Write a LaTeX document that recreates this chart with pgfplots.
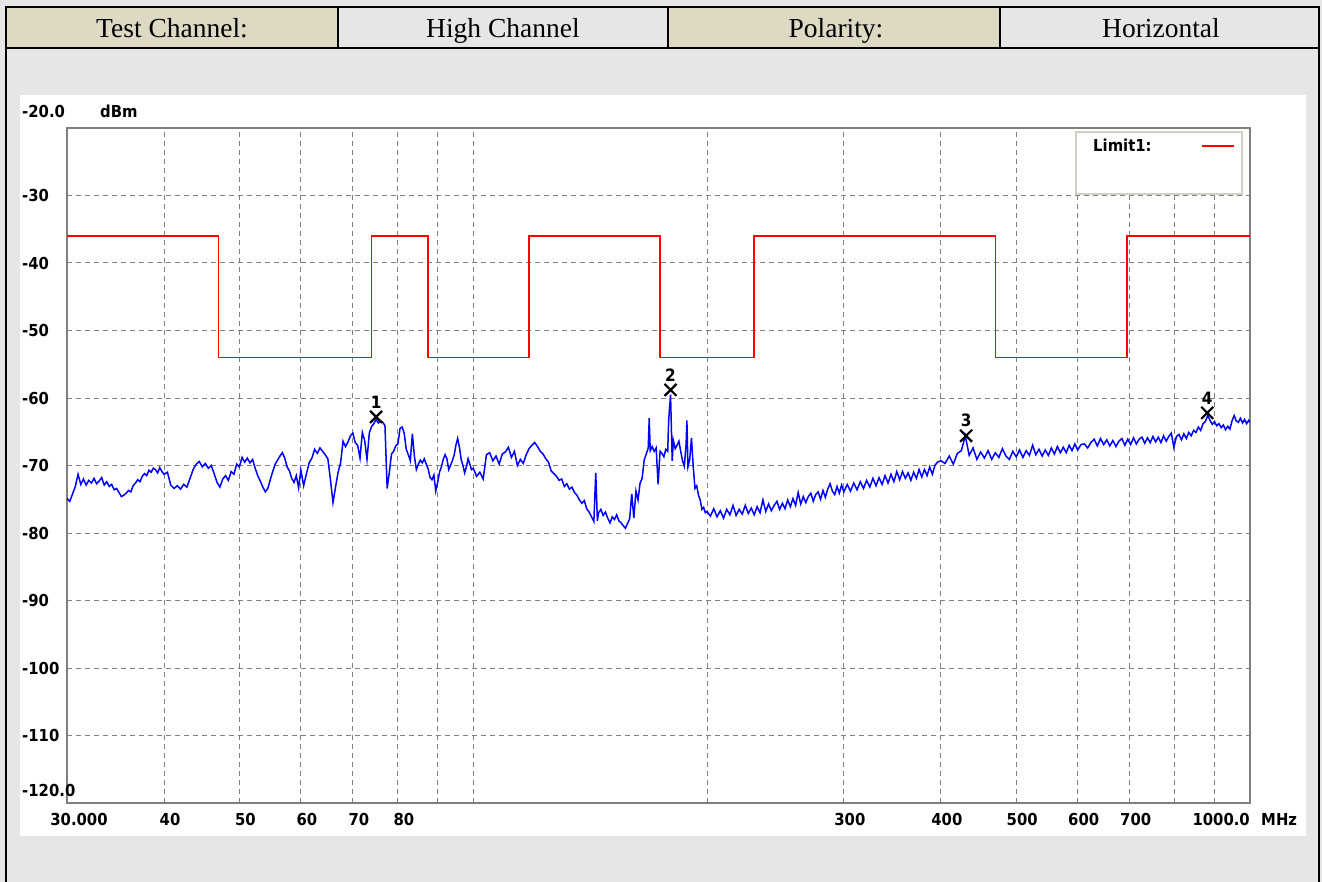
\documentclass[border=0pt]{standalone}
\usepackage{pgfplots}
\pgfplotsset{compat=1.18}
\usepackage{fontspec}
\setmainfont{Liberation Serif}
\newfontfamily\pf{DejaVu Sans Condensed}
\definecolor{bgc}{HTML}{E6E6E6}
\definecolor{beige}{HTML}{DDD9C3}
\definecolor{frm}{HTML}{808080}
\definecolor{lgb}{HTML}{D4D0C8}
\newcommand{\lf}{\pf\bfseries\fontsize{16.5}{17}\selectfont}
\newcommand{\hf}{\fontsize{27.5}{28}\selectfont}
\begin{document}
\begin{tikzpicture}
\useasboundingbox (0pt,0pt) rectangle (1322pt,-882pt);
\fill[bgc] (0pt,0pt) rectangle (1322pt,-882pt);
\fill[beige] (6pt,-7pt) rectangle (338pt,-48pt);
\fill[beige] (668pt,-7pt) rectangle (1000pt,-48pt);
\fill[white] (20pt,-95pt) rectangle (1306pt,-836pt);
% header text
\node[font=\hf, anchor=base] at (172pt,-38pt) {Test Channel:};
\node[font=\hf, anchor=base] at (503pt,-38pt) {High Channel};
\node[font=\hf, anchor=base] at (836pt,-38pt) {Polarity:};
\node[font=\hf, anchor=base] at (1161pt,-38pt) {Horizontal};
% borders
\draw[line width=2.5pt] (6pt,-7pt) -- (1319pt,-7pt);
\draw[line width=2.5pt] (6pt,-48pt) -- (1319pt,-48pt);
\draw[line width=2.5pt] (6pt,-6pt) -- (6pt,-882pt);
\draw[line width=2.5pt] (1319pt,-6pt) -- (1319pt,-882pt);
\draw[line width=2pt] (338pt,-7pt) -- (338pt,-48pt);
\draw[line width=2pt] (668pt,-7pt) -- (668pt,-48pt);
\draw[line width=2pt] (1000pt,-7pt) -- (1000pt,-48pt);

\begin{axis}[
  at={(67pt,-803pt)}, anchor=south west, scale only axis,
  width=1183pt, height=675pt,
  xmode=log, xmin=30, xmax=1000, ymin=-120, ymax=-20,
  axis line style={draw=frm, line width=2.5pt},
  xtick={40,50,60,70,80,90,100,200,300,400,500,600,700,800,900},
  xticklabels={40,50,60,70,80,,,,300,400,500,600,700,,},
  ytick={-110,-100,-90,-80,-70,-60,-50,-40,-30},
  yticklabels={-110,-100,-90,-80,-70,-60,-50,-40,-30},
  major tick length=0pt,
  grid=major,
  major grid style={draw=frm, line width=1pt, dash pattern=on 5pt off 4pt},
  tick label style={font=\lf, text=black},
  xticklabel style={anchor=north, inner sep=0pt, yshift=-10pt, xshift=6pt},
  yticklabel style={anchor=west, inner sep=0pt, xshift=-45pt},
]
% limit line
\addplot[red, line width=1.6pt, const plot, forget plot] coordinates {
(30,-36)(47,-54)(74,-36)(87.5,-54)(118,-36)(174,-54)(230,-36)(470,-54)(694,-36)(1000,-36)};
% trace
\addplot[color={rgb,255:red,0;green,0;blue,255}, line width=1.5pt] coordinates {
(30,-74.9)(30.25,-75.3)(30.5,-74.2)(30.75,-73.1)(31,-71.3)(31.25,-72.8)(31.5,-72.0)(31.75,-72.9)(32,-72.2)(32.25,-72.6)(32.5,-71.9)(32.75,-72.7)(33,-72.3)(33.25,-71.8)(33.5,-72.9)(33.75,-72.4)(34,-73.1)(34.25,-72.8)(34.5,-73.6)(34.75,-73.4)(35,-74.0)(35.25,-74.6)(35.5,-74.4)(35.75,-74.1)(36,-73.7)(36.25,-73.9)(36.5,-73.0)(36.75,-72.6)(37,-72.1)(37.25,-72.4)(37.5,-71.6)(37.75,-71.2)(38,-71.5)(38.25,-70.7)(38.5,-71.0)(38.75,-70.4)(39,-70.6)(39.25,-71.1)(39.5,-70.3)(39.75,-70.9)(40,-71.3)
(40.4,-71.0)(40.8,-72.9)(41.2,-73.4)(41.6,-73.0)(42,-73.5)(42.4,-72.8)(42.8,-73.2)(43.2,-71.9)(43.6,-70.6)(44,-69.8)(44.4,-69.4)(44.8,-70.2)(45.2,-69.7)(45.6,-70.4)(46,-70.0)(46.4,-71.2)(46.8,-72.5)(47.2,-73.2)(47.6,-72.0)(48,-71.5)(48.4,-72.2)(48.8,-70.9)(49.2,-71.3)(49.6,-69.8)(50,-70.2)(50.4,-68.8)(50.8,-69.5)(51.2,-68.9)(51.6,-69.6)(52,-69.1)(52.4,-70.4)(52.8,-71.5)(53.2,-72.3)(53.6,-73.2)(54,-73.9)(54.4,-73.4)(54.8,-72.1)(55.2,-70.9)(55.6,-69.8)(56,-69.2)(56.4,-68.6)(56.8,-68.1)(57.2,-68.9)(57.6,-70.2)(58,-70.8)(58.4,-71.9)(58.8,-72.5)(59.2,-71.5)(59.6,-73.3)(60,-70.7)
(60.5,-73.0)(61,-71.2)(61.5,-69.6)(62,-68.9)(62.5,-67.6)(63,-68.2)(63.5,-67.4)(64,-67.9)(64.5,-68.4)(65,-69.0)(65.5,-72.1)(66,-75.5)(66.5,-73.2)(67,-71.0)(67.5,-69.6)(68,-66.4)(68.5,-67.2)(69,-66.5)(69.5,-65.6)(70,-65.2)(70.5,-66.6)(71,-67.0)(71.5,-68.9)(72,-65.1)(72.5,-66.3)(73,-69.1)(73.5,-65.2)(74,-64.2)(74.5,-63.8)(75,-63.2)(75.5,-63.7)(76,-63.4)(76.5,-63.6)(77,-64.1)(77.5,-73.4)(78,-71.0)(78.5,-68.3)(79,-67.9)(79.5,-67.1)(80,-66.8)(80.5,-64.5)(81,-64.3)(81.5,-65.2)(82,-67.6)(82.5,-68.4)(83,-69.3)(83.5,-65.3)(84,-68.6)(84.5,-70.6)(85,-69.8)(85.5,-69.2)(86,-69.6)(86.5,-69.0)(87,-69.8)(87.5,-70.5)(88,-71.8)(88.5,-72.1)(89,-71.4)(89.5,-73.8)(90,-72.5)(90.5,-71.0)(91,-70.2)(91.5,-69.1)(92,-68.4)(92.5,-69.0)(93,-70.6)(93.5,-70.0)(94,-69.3)(94.5,-68.5)(95,-67.0)(95.5,-66.0)(96,-67.3)(96.5,-69.1)(97,-70.0)(97.5,-71.1)(98,-70.2)(98.5,-69.0)(99,-69.8)(99.5,-70.6)(100,-70.4)
(101,-71.6)(102,-71.0)(103,-72.0)(104,-68.4)(105,-68.1)(106,-69.3)(107,-68.6)(108,-69.8)(109,-68.3)(110,-68.0)(111,-67.3)(112,-68.8)(113,-67.9)(114,-70.0)(115,-69.1)(116,-69.7)(117,-68.4)(118,-67.5)(119,-67.0)(120,-66.6)(121,-67.2)(122,-67.9)(123,-68.3)(124,-69.0)(125,-69.5)(126,-70.8)(127,-71.2)(128,-71.6)(129,-72.2)(130,-72.0)(131,-73.1)(132,-72.7)(133,-73.5)(134,-73.2)(135,-74.0)(136,-74.4)(137,-75.1)(138,-75.6)(139,-75.2)(140,-76.4)(141,-76.9)(142,-77.6)(143,-78.3)(143.8,-71.1)(144.5,-78.2)(145,-77.0)(146,-76.5)(147,-77.4)(148,-76.9)(149,-77.8)(150,-78.5)(151,-77.6)(152,-78.0)(153,-77.3)(154,-78.2)(155,-78.5)(156,-78.9)(157,-79.3)(158,-78.6)(159,-77.9)(160,-74.2)(161,-77.8)(162,-73.8)(163,-75.1)(164,-72.6)(165,-71.9)(166,-69.2)(167,-68.3)(168,-67.4)(168.5,-63.0)(169,-67.8)(170,-67.2)(171,-67.9)(172,-67.4)(173,-72.8)(174,-67.9)(175,-68.2)(176,-68.7)(177,-67.6)(178,-67.9)(178.5,-63.3)(179.5,-59.5)(180.4,-69.3)(181,-66.3)(182,-67.5)(183,-67.0)(184,-66.4)(185,-67.9)(186,-69.3)(187,-70.1)(188,-66.8)(188.4,-63.3)(189,-70.2)(190,-69.1)(191,-65.9)(192,-70.2)(193,-73.4)(194,-73.0)(195,-74.4)(196,-75.1)(197,-76.5)(198,-76.2)(199,-77.0)(200,-76.8)
(202,-77.5)(204,-76.4)(206,-77.6)(208,-76.7)(210,-77.8)(212,-76.5)(214,-77.3)(216,-75.9)(218,-77.4)(220,-76.5)(222,-77.2)(224,-75.9)(226,-77.1)(228,-76.3)(230,-77.3)(232,-76.1)(234,-77.0)(236,-75.1)(238,-76.8)(240,-75.7)(242,-76.7)(244,-75.9)(246,-75.3)(248,-76.5)(250,-75.6)(252,-76.4)(254,-75.1)(256,-76.1)(258,-74.9)(260,-75.9)(262,-74.0)(264,-75.7)(266,-74.6)(268,-75.5)(270,-74.6)(272,-74.1)(274,-75.3)(276,-74.3)(278,-73.9)(280,-75.0)(282,-73.7)(284,-74.7)(286,-73.5)(288,-72.7)(290,-73.8)(292,-74.3)(294,-73.1)(296,-74.1)(298,-72.9)(300,-73.9)
(303,-72.8)(306,-73.8)(309,-72.6)(312,-73.6)(315,-72.4)(318,-73.4)(321,-72.2)(324,-73.2)(327,-71.9)(330,-73.0)(333,-71.8)(336,-72.8)(339,-71.5)(342,-72.6)(345,-71.3)(348,-72.4)(351,-70.9)(354,-72.1)(357,-70.9)(360,-71.9)(363,-71.1)(366,-72.2)(369,-71.0)(372,-71.9)(375,-70.6)(378,-71.7)(381,-70.6)(384,-71.5)(387,-70.2)(390,-71.3)(393,-70.0)(396,-69.5)(400,-69.3)
(405,-69.7)(410,-68.6)(415,-69.8)(420,-68.2)(425,-67.8)(430,-65.6)(435,-68.5)(440,-67.4)(445,-69.1)(450,-68.0)(455,-68.9)(460,-67.8)(465,-69.1)(470,-68.1)(475,-68.8)(480,-67.5)(485,-68.6)(490,-69.1)(495,-67.9)(500,-68.7)(505,-67.7)(510,-68.8)(515,-67.8)(520,-68.5)(525,-67.0)(530,-68.4)(535,-67.6)(540,-68.6)(545,-67.7)(550,-68.5)(555,-67.4)(560,-68.3)(565,-67.2)(570,-68.1)(575,-67.3)(580,-68.1)(585,-67.0)(590,-67.8)(595,-66.8)(600,-67.7)
(606,-66.9)(612,-66.8)(618,-67.4)(624,-66.6)(630,-66.1)(636,-67.1)(642,-66.0)(648,-66.9)(654,-66.2)(660,-67.1)(666,-66.3)(672,-67.2)(678,-66.4)(684,-66.0)(690,-67.0)(696,-66.1)(702,-66.9)(708,-65.9)(714,-66.8)(720,-66.1)(726,-65.8)(732,-66.7)(738,-65.9)(744,-66.6)(750,-65.7)(756,-66.5)(762,-65.8)(768,-66.6)(774,-65.6)(780,-66.4)(786,-65.7)(792,-65.2)(798,-67.3)(804,-65.7)(810,-65.4)(816,-66.2)(822,-65.3)(828,-66.0)(834,-65.1)(840,-65.6)(846,-64.8)(852,-65.1)(858,-64.3)(864,-64.8)(870,-63.8)(876,-63.5)(882,-62.6)(888,-63.3)(894,-63.9)(900,-63.5)(906,-64.1)(912,-63.8)(918,-64.4)(924,-64.0)(930,-64.7)(936,-64.2)(942,-64.6)(948,-63.4)(954,-62.6)(960,-63.4)(966,-63.6)(972,-63.0)(978,-63.7)(984,-63.2)(990,-63.8)(996,-63.3)(1000,-63.6)
};
% markers
\addplot[only marks, mark=x, mark size=8.5pt, mark options={line width=2.2pt, draw=black},
  nodes near coords, point meta=explicit symbolic,
  nodes near coords style={anchor=south, inner sep=0pt, yshift=7.5pt, font=\pf\bfseries\fontsize{17}{17}\selectfont, text=black}]
  table[meta=lab] {
x y lab
75 -62.8 1
179.5 -58.8 2
431 -65.6 3
881 -62.2 4
};
\end{axis}
% extra labels
\node[anchor=base west, inner sep=0pt, font=\lf] at (22pt,-118pt) {-20.0};
\node[anchor=base west, inner sep=0pt, font=\lf] at (100pt,-118pt) {dBm};
\node[anchor=base west, inner sep=0pt, font=\lf] at (22pt,-796pt) {-120.0};
\node[anchor=north, inner sep=0pt, font=\lf] at (79pt,-813pt) {30.000};
\node[anchor=north east, inner sep=0pt, font=\lf] at (1250pt,-813pt) {1000.0};
\node[anchor=north west, inner sep=0pt, font=\lf] at (1261pt,-813pt) {MHz};
% legend box
\draw[lgb, line width=1.5pt, fill=white] (1076pt,-132pt) rectangle (1242pt,-194pt);
\node[anchor=west, inner sep=0pt, font=\lf] at (1093pt,-145pt) {Limit1:};
\draw[red, line width=1.6pt] (1202pt,-146pt) -- (1234pt,-146pt);
\end{tikzpicture}
\end{document}
